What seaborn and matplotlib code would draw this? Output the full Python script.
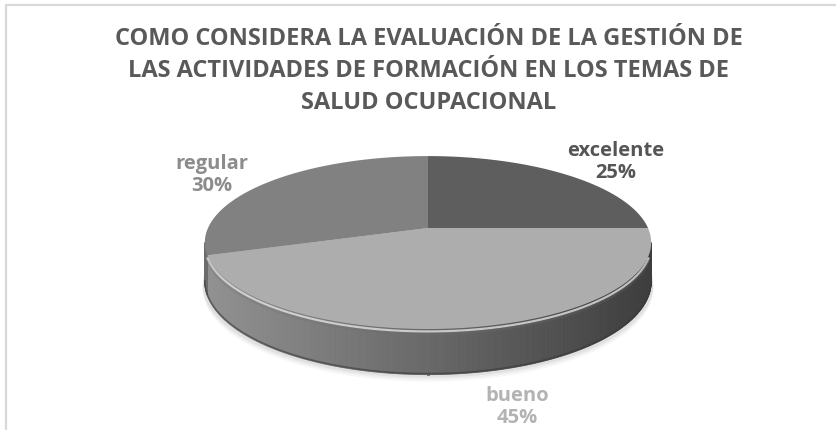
import numpy as np
import matplotlib
matplotlib.use("Agg")
import matplotlib.pyplot as plt
import seaborn as sns
from matplotlib.patches import Polygon

# data
categories = ["excelente", "bueno", "regular"]
shares = [25, 45, 30]
slice_grays = ["#5e5e5e", "#adadad", "#818181"]
label_grays = ["#555555", "#b3b3b3", "#8c8c8c"]
title = ("COMO CONSIDERA LA EVALUACIÓN DE LA GESTIÓN DE\n"
         "LAS ACTIVIDADES DE FORMACIÓN EN LOS TEMAS DE\n"
         "SALUD OCUPACIONAL")

sns.set_theme(style="white")
plt.rcParams["font.family"] = ["Open Sans", "DejaVu Sans"]

W, H = 836, 431
fig = plt.figure(figsize=(W / 100, H / 100), dpi=100)
ax = fig.add_axes([0, 0, 1, 1])
ax.set_xlim(0, W)
ax.set_ylim(H, 0)
ax.axis("off")

# chart frame (only top and left edge visible in the crop)
ax.plot([5, W], [6, 6], color="#d9d9d9", lw=1.6, solid_capstyle="butt")
ax.plot([6, 6], [6, H], color="#d9d9d9", lw=1.6, solid_capstyle="butt")

# 3d pie geometry, slight perspective
cx, cy = 428, 229
A, B, K, D = 220, 84, 0.168, 38


def proj(phi, z=0.0):
    X, Y = np.sin(phi), np.cos(phi)
    s = 1 + K * Y
    return cx + A * X / s, cy - B * Y / s + z * D / s


frac = np.array(shares, dtype=float) / sum(shares)
edges = np.concatenate([[0], np.cumsum(frac)]) * 2 * np.pi


def slice_of(phi):
    return int(np.searchsorted(edges, phi, side="right") - 1) % len(shares)


# soft shadow under the pie
full = np.linspace(0, 2 * np.pi, 400)
for off, al in [(7, 0.03), (5, 0.04), (3, 0.05)]:
    bx, by = proj(full, 1)
    ax.add_patch(Polygon(np.c_[bx + (bx - cx) * 0.01, by + off],
                         closed=True, fc="black", ec="none", alpha=al))

# side wall with left-to-right shading
p0 = np.arccos(-K)
p1 = 2 * np.pi - p0
phis = np.linspace(p0, p1, 400)
for a0, a1 in zip(phis[:-1], phis[1:]):
    x0, y0 = proj(a0)
    x1, y1 = proj(a1)
    x0b, y0b = proj(a0, 1)
    x1b, y1b = proj(a1, 1)
    base = np.array(matplotlib.colors.to_rgb(slice_grays[slice_of((a0 + a1) / 2)]))
    t = ((x0 + x1) / 2 - (cx - A)) / (2 * A)
    shade = 0.84 - 0.48 * np.clip(t, 0, 1)
    c = np.clip(base * shade, 0, 1)
    ax.add_patch(Polygon([(x0, y0), (x1, y1), (x1b, y1b), (x0b, y0b)], closed=True,
                         fc=c, ec=c, lw=0.6))

# darker lip at the bottom of the wall
bx, by = proj(phis, 1)
ax.plot(bx, by - 1, color="#3a3a3a", lw=1.2, alpha=0.6)

# top face
for i, name in enumerate(categories):
    ang = np.linspace(edges[i], edges[i + 1], 200)
    rx, ry = proj(ang)
    pts = np.c_[np.r_[cx, rx], np.r_[cy, ry]]
    ax.add_patch(Polygon(pts, closed=True, fc=slice_grays[i], ec="none"))

# bevel highlight along the front rim
hx, hy = proj(np.linspace(p0 + 0.15, p1 - 0.15, 300))
ax.plot(hx, hy + 2.5, color="#e2e2e2", lw=1.6, alpha=0.8)
ax.plot(hx, hy + 5, color="#6e6e6e", lw=2.0, alpha=0.25)

# data labels
label_pos = [(616, 151), (517, 396), (212, 164)]
for (lx, ly), name, pct, col in zip(label_pos, categories, shares, label_grays):
    ax.text(lx, ly, name, ha="center", va="center", fontsize=14.5,
            fontweight="bold", color=col)
    ax.text(lx, ly + 22, f"{pct}%", ha="center", va="center", fontsize=14.5,
            fontweight="bold", color=col)

ax.text(429, 71, title, ha="center", va="center", fontsize=17,
        color="#595959", linespacing=1.43, fontweight="bold")

fig.savefig("out.png", dpi=100)
